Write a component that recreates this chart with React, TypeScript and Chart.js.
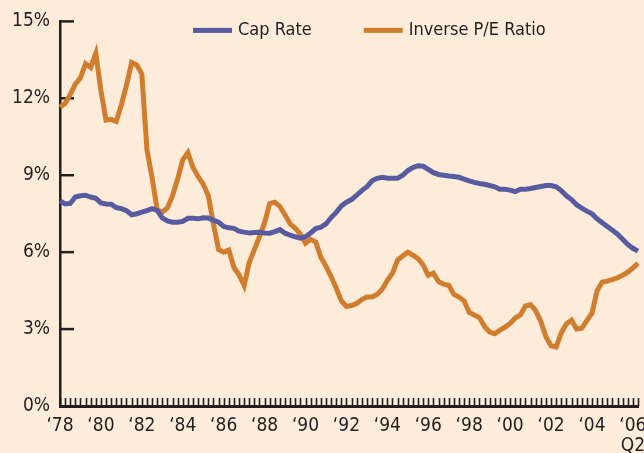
import { useEffect, useRef } from "react";
import { Chart, registerables } from "chart.js";

Chart.register(...registerables);

const quarters = [
  "1978Q1","1978Q2","1978Q3","1978Q4","1979Q1","1979Q2","1979Q3","1979Q4",
  "1980Q1","1980Q2","1980Q3","1980Q4","1981Q1","1981Q2","1981Q3","1981Q4",
  "1982Q1","1982Q2","1982Q3","1982Q4","1983Q1","1983Q2","1983Q3","1983Q4",
  "1984Q1","1984Q2","1984Q3","1984Q4","1985Q1","1985Q2","1985Q3","1985Q4",
  "1986Q1","1986Q2","1986Q3","1986Q4","1987Q1","1987Q2","1987Q3","1987Q4",
  "1988Q1","1988Q2","1988Q3","1988Q4","1989Q1","1989Q2","1989Q3","1989Q4",
  "1990Q1","1990Q2","1990Q3","1990Q4","1991Q1","1991Q2","1991Q3","1991Q4",
  "1992Q1","1992Q2","1992Q3","1992Q4","1993Q1","1993Q2","1993Q3","1993Q4",
  "1994Q1","1994Q2","1994Q3","1994Q4","1995Q1","1995Q2","1995Q3","1995Q4",
  "1996Q1","1996Q2","1996Q3","1996Q4","1997Q1","1997Q2","1997Q3","1997Q4",
  "1998Q1","1998Q2","1998Q3","1998Q4","1999Q1","1999Q2","1999Q3","1999Q4",
  "2000Q1","2000Q2","2000Q3","2000Q4","2001Q1","2001Q2","2001Q3","2001Q4",
  "2002Q1","2002Q2","2002Q3","2002Q4","2003Q1","2003Q2","2003Q3","2003Q4",
  "2004Q1","2004Q2","2004Q3","2004Q4","2005Q1","2005Q2","2005Q3","2005Q4",
  "2006Q1","2006Q2",
];

const capRate = [
  8.0, 7.88, 7.9, 8.15, 8.2, 8.22, 8.15, 8.1, 7.92, 7.88,
  7.87, 7.74, 7.7, 7.62, 7.46, 7.5, 7.56, 7.62, 7.7, 7.63,
  7.34, 7.22, 7.17, 7.17, 7.2, 7.32, 7.32, 7.3, 7.34, 7.33,
  7.25, 7.17, 7.0, 6.95, 6.93, 6.82, 6.78, 6.75, 6.77, 6.78,
  6.75, 6.74, 6.8, 6.88, 6.74, 6.66, 6.6, 6.55, 6.6, 6.75,
  6.92, 6.97, 7.1, 7.35, 7.55, 7.8, 7.95, 8.05, 8.22, 8.4,
  8.55, 8.78, 8.88, 8.92, 8.88, 8.88, 8.88, 9.0, 9.18, 9.3,
  9.37, 9.35, 9.23, 9.1, 9.03, 9.0, 8.97, 8.95, 8.92, 8.85,
  8.78, 8.72, 8.68, 8.65, 8.6, 8.55, 8.45, 8.45, 8.42, 8.36,
  8.45, 8.45, 8.48, 8.52, 8.56, 8.6, 8.6, 8.55, 8.4, 8.2,
  8.05, 7.85, 7.72, 7.6, 7.5, 7.3, 7.15, 7.0, 6.85, 6.7,
  6.5, 6.3, 6.15, 6.04,
];

const inversePE = [
  11.65, 11.8, 12.15, 12.55, 12.8, 13.35, 13.2, 13.75, 12.3, 11.15,
  11.18, 11.1, 11.75, 12.5, 13.4, 13.3, 12.95, 10.0, 8.9, 7.65,
  7.56, 7.72, 8.2, 8.85, 9.6, 9.88, 9.3, 8.95, 8.65, 8.2,
  7.1, 6.1, 6.0, 6.08, 5.4, 5.12, 4.7, 5.6, 6.1, 6.6,
  7.15, 7.9, 7.95, 7.78, 7.45, 7.1, 6.93, 6.7, 6.35, 6.5,
  6.4, 5.8, 5.45, 5.05, 4.6, 4.1, 3.88, 3.92, 4.0, 4.15,
  4.25, 4.25, 4.35, 4.55, 4.9, 5.18, 5.69, 5.85, 6.0, 5.88,
  5.75, 5.5, 5.1, 5.18, 4.85, 4.75, 4.71, 4.35, 4.25, 4.1,
  3.65, 3.55, 3.45, 3.1, 2.88, 2.82, 2.96, 3.08, 3.22, 3.43,
  3.55, 3.9, 3.95, 3.72, 3.3, 2.7, 2.35, 2.3, 2.85, 3.2,
  3.35, 3.0, 3.03, 3.33, 3.62, 4.5, 4.83, 4.87, 4.93, 5.0,
  5.1, 5.22, 5.38, 5.57,
];

const xTickQuarters = [
  "1978Q1","1980Q1","1982Q1","1984Q1","1986Q1","1988Q1","1990Q1","1992Q1",
  "1994Q1","1996Q1","1998Q1","2000Q1","2002Q1","2004Q1","2006Q1",
];
const xTickTexts: (string | string[])[] = [
  "\u201878","\u201880","\u201882","\u201884","\u201886","\u201888","\u201890","\u201892",
  "\u201894","\u201896","\u201898","\u201800","\u201802","\u201804",["\u201806","Q2"],
];
const yTickValues = [0, 3, 6, 9, 12, 15];

const BG = "rgb(253,236,218)";
const BLUE = "rgb(88,91,160)";
const ORANGE = "rgb(208,125,45)";
const INK = "#231F20";
const FONT = '"DejaVu Sans Condensed", "Liberation Sans Narrow", "DejaVu Sans", sans-serif';

const innerTicks = {
  id: "innerTicks",
  beforeDatasetsDraw(chart: any) {
    const { ctx, chartArea, scales } = chart;
    const xs = scales.x;
    const ys = scales.y;
    ctx.save();
    ctx.strokeStyle = INK;
    ctx.lineWidth = 1.6;
    for (let i = 0; i < quarters.length; i++) {
      const px = Math.round(xs.getPixelForValue(i)) + 0.5;
      ctx.beginPath();
      ctx.moveTo(px, chartArea.bottom);
      ctx.lineTo(px, chartArea.bottom - 8);
      ctx.stroke();
    }
    ctx.lineWidth = 2.5;
    for (const v of yTickValues) {
      if (v === 0) continue;
      const py = ys.getPixelForValue(v);
      ctx.beginPath();
      ctx.moveTo(chartArea.left, py);
      ctx.lineTo(chartArea.left + 14, py);
      ctx.stroke();
    }
    ctx.restore();
  },
};

const customLegend = {
  id: "customLegend",
  afterDraw(chart: any) {
    const { ctx, chartArea } = chart;
    ctx.save();
    ctx.font = `18px ${FONT}`;
    ctx.textBaseline = "middle";
    ctx.textAlign = "left";
    let x = chartArea.left + 133;
    const y = chartArea.top + 9;
    chart.data.datasets.forEach((ds: any) => {
      ctx.fillStyle = ds.borderColor;
      ctx.fillRect(x, y - 2.5, 39, 5);
      x += 39 + 6;
      ctx.fillStyle = INK;
      ctx.fillText(ds.label, x, y);
      x += ctx.measureText(ds.label).width + 52;
    });
    ctx.restore();
  },
};

export default function App() {
  const ref = useRef<HTMLCanvasElement | null>(null);
  useEffect(() => {
    document.body.style.margin = "0";
    if (!ref.current) return;
    const chart = new Chart(ref.current, {
      type: "line",
      data: {
        labels: quarters,
        datasets: [
          {
            label: "Cap Rate",
            data: capRate,
            borderColor: BLUE,
            backgroundColor: BLUE,
            borderWidth: 5,
            pointRadius: 0,
            tension: 0,
          },
          {
            label: "Inverse P/E Ratio",
            data: inversePE,
            borderColor: ORANGE,
            backgroundColor: ORANGE,
            borderWidth: 5,
            pointRadius: 0,
            tension: 0,
          },
        ],
      },
      options: {
        animation: false,
        responsive: false,
        devicePixelRatio: 1,
        layout: { padding: { top: 21, right: 6, left: 0, bottom: 0 } },
        plugins: {
          tooltip: { enabled: false },
          legend: { display: false },
        },
        scales: {
          x: {
            type: "category",
            offset: false,
            grid: { display: false, drawTicks: false },
            border: { display: true, color: INK, width: 3 },
            ticks: {
              autoSkip: false,
              maxRotation: 0,
              minRotation: 0,
              padding: 10,
              color: INK,
              font: { family: FONT, size: 19, lineHeight: 1.05 },
              callback(_v: any, index: number) {
                const k = xTickQuarters.indexOf(quarters[index]);
                return k >= 0 ? xTickTexts[k] : "";
              },
            },
            afterFit(scale: any) {
              scale.paddingLeft = 0;
              scale.paddingRight = 0;
              scale.height = 47;
            },
          },
          y: {
            min: 0,
            max: 15,
            grid: { display: false, drawTicks: false },
            border: { display: true, color: INK, width: 2.5 },
            afterBuildTicks(scale: any) {
              scale.ticks = yTickValues.map((v) => ({ value: v }));
            },
            ticks: {
              padding: 10,
              color: INK,
              font: { family: FONT, size: 19 },
              callback(v: any) {
                return v + "%";
              },
            },
            afterFit(scale: any) {
              scale.width = 60;
            },
          },
        },
      },
      plugins: [innerTicks, customLegend],
    } as any);
    return () => chart.destroy();
  }, []);
  return (
    <div style={{ width: 644, height: 453, background: BG }}>
      <canvas ref={ref} width={644} height={453} style={{ display: "block" }} />
    </div>
  );
}
